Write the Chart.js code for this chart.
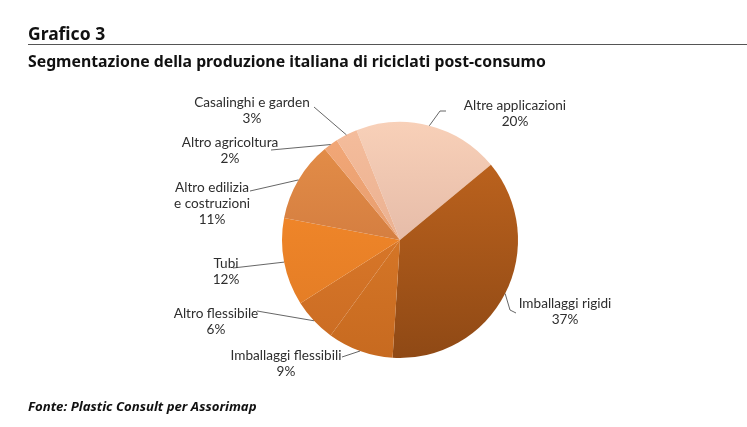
<!DOCTYPE html>
<html lang="it">
<head>
    <meta charset="UTF-8">
    <title>Grafico 3</title>
    <script src="https://cdn.jsdelivr.net/npm/chart.js"></script>
    <style>
        body {
            margin: 0;
            background: #fff;
            font-family: "Noto Sans", sans-serif;
            color: #111;
        }
        #wrap {
            position: relative;
            width: 747px;
            height: 427px;
            overflow: hidden;
        }
        #pieChart {
            position: absolute;
            left: 0;
            top: 0;
        }
        .heading {
            position: absolute;
            left: 28px;
            margin: 0;
            font-weight: bold;
            white-space: nowrap;
        }
        #title { top: 21px; font-size: 17.5px; }
        #rule {
            position: absolute;
            left: 28px;
            right: 0;
            top: 44px;
            border-top: 1px solid #555;
        }
        #subtitle { top: 50px; font-size: 15.8px; }
        #source { top: 397px; font-size: 13.2px; font-style: italic; }
    </style>
</head>
<body>
<div id="wrap">
    <canvas id="pieChart" width="747" height="427"></canvas>
    <div class="heading" id="title">Grafico 3</div>
    <div id="rule"></div>
    <div class="heading" id="subtitle">Segmentazione della produzione italiana di riciclati post-consumo</div>
    <div class="heading" id="source">Fonte: Plastic Consult per Assorimap</div>
</div>

<script>
    // data, clockwise from the top
    const categories = ["Altre applicazioni", "Imballaggi rigidi", "Imballaggi flessibili", "Altro flessibile",
        "Tubi", "Altro edilizia e costruzioni", "Altro agricoltura", "Casalinghi e garden"];
    const shares = [20, 37, 9, 6, 12, 11, 2, 3];

    // slice shading: light (top) -> dark (bottom)
    const topColors = ["#f8d0b8", "#c4671f", "#e2812d", "#e5812d", "#fa8d2c", "#e69049", "#f3a878", "#f5bd9c"];
    const bottomColors = ["#d4a899", "#8f4915", "#c76a20", "#c96b23", "#de7924", "#c46d38", "#dc9465", "#e0a586"];

    // label text lines and where they sit (center x, first baseline y)
    const labelLines = [
        ["Altre applicazioni"], ["Imballaggi rigidi"], ["Imballaggi flessibili"], ["Altro flessibile"],
        ["Tubi"], ["Altro edilizia", "e costruzioni"], ["Altro agricoltura"], ["Casalinghi e garden"]
    ];
    const labelPos = [[515, 110], [565, 308], [286, 360], [216, 318], [226, 268], [212, 192], [230, 147], [252, 107]];
    // leader line points starting at the text side, ending on the slice
    const leaders = [
        [[446, 111], [440, 111]],
        [[516, 313], [510, 310]],
        [[342, 357]],
        [[257, 311]],
        [[233, 268]],
        [[250, 191]],
        [[271, 150]],
        [[314, 107]]
    ];

    const labelPlugin = {
        id: 'sliceLabels',
        afterDraw(chart) {
            const ctx = chart.ctx;
            const arcs = chart.getDatasetMeta(0).data;
            ctx.save();
            ctx.strokeStyle = '#555';
            ctx.lineWidth = 0.9;
            arcs.forEach((arc, i) => {
                const p = arc.getProps(['x', 'y', 'startAngle', 'endAngle', 'outerRadius'], true);
                const mid = (p.startAngle + p.endAngle) / 2;
                const ex = p.x + Math.cos(mid) * p.outerRadius;
                const ey = p.y + Math.sin(mid) * p.outerRadius;
                ctx.beginPath();
                leaders[i].forEach((pt, k) => k === 0 ? ctx.moveTo(pt[0], pt[1]) : ctx.lineTo(pt[0], pt[1]));
                ctx.lineTo(ex, ey);
                ctx.stroke();

                const lines = labelLines[i].concat([shares[i] + '%']);
                ctx.fillStyle = '#2e2e2e';
                ctx.font = '13.6px Lato';
                ctx.textAlign = 'center';
                ctx.textBaseline = 'alphabetic';
                lines.forEach((t, k) => ctx.fillText(t, labelPos[i][0], labelPos[i][1] + k * 15.8));
            });
            ctx.restore();
        }
    };

    function sliceFill(context) {
        const chart = context.chart;
        const area = chart.chartArea;
        if (!area) return topColors[context.dataIndex];
        const g = chart.ctx.createLinearGradient(0, area.top, 0, area.bottom);
        g.addColorStop(0, topColors[context.dataIndex]);
        g.addColorStop(1, bottomColors[context.dataIndex]);
        return g;
    }

    new Chart(document.getElementById('pieChart'), {
        type: 'pie',
        data: {
            labels: categories,
            datasets: [{
                data: shares,
                backgroundColor: sliceFill,
                borderWidth: 0
            }]
        },
        options: {
            responsive: false,
            animation: false,
            rotation: -21.6,
            layout: { padding: { left: 282, right: 229, top: 122, bottom: 69 } },
            plugins: {
                legend: { display: false },
                tooltip: { enabled: false }
            }
        },
        plugins: [labelPlugin]
    });
</script>
</body>
</html>
